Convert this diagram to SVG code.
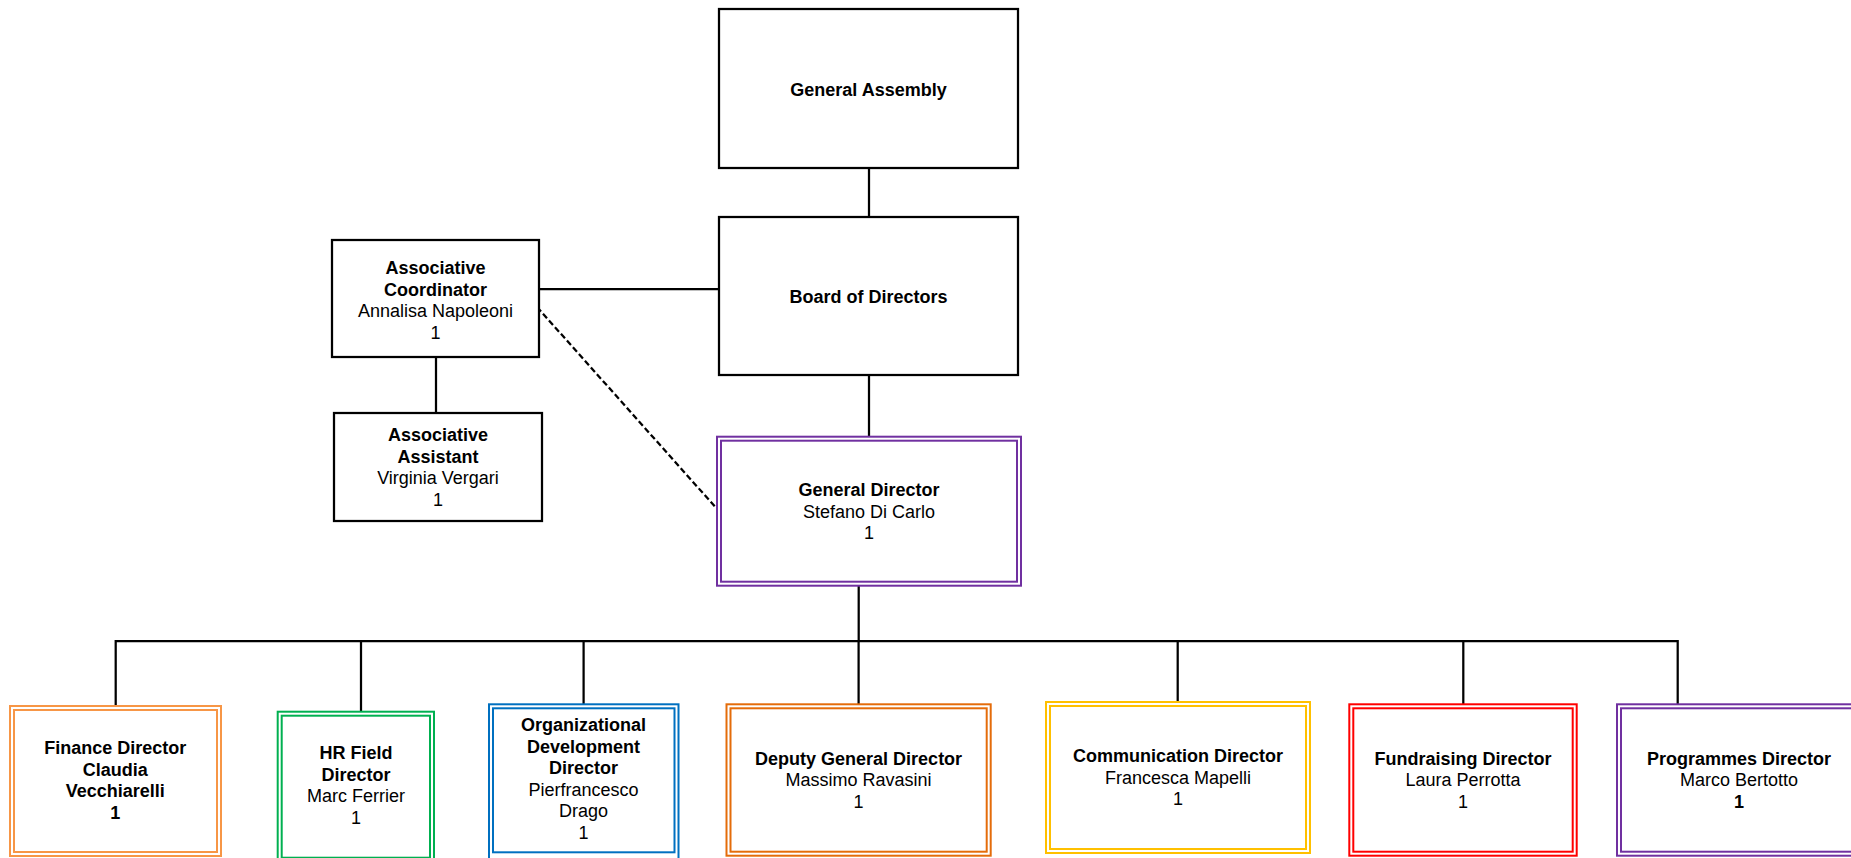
<svg xmlns="http://www.w3.org/2000/svg" width="1851" height="858" viewBox="0 0 1851 858">
<style>
text{font-family:"Liberation Sans",Arial,sans-serif;font-size:18px;text-anchor:middle;fill:#000}
.b{font-weight:bold}
.box{fill:#fff;stroke:#000;stroke-width:2.25}
.o{fill:#fff;stroke-width:2}
.i{fill:none;stroke-width:2}
.c{stroke:#000;stroke-width:2.25;fill:none}
.d{stroke:#000;stroke-width:2.25;fill:none;stroke-dasharray:6 3}
</style>
<rect width="1851" height="858" fill="#fff"/>
<g id="connectors">
<line class="c" x1="869" y1="169" x2="869" y2="217"/>
<line class="c" x1="869" y1="376" x2="869" y2="437"/>
<line class="c" x1="540" y1="289" x2="719" y2="289"/>
<line class="c" x1="436" y1="357" x2="436" y2="413"/>
<line class="d" x1="537" y1="307" x2="718" y2="510"/>
<line class="c" x1="858.7" y1="586" x2="858.7" y2="641"/>
<line class="c" x1="115.7" y1="641" x2="1677.7" y2="641"/>
<line class="c" x1="115.7" y1="640" x2="115.7" y2="706"/>
<line class="c" x1="361" y1="640" x2="361" y2="712"/>
<line class="c" x1="583.6" y1="640" x2="583.6" y2="704"/>
<line class="c" x1="858.6" y1="640" x2="858.6" y2="704"/>
<line class="c" x1="1177.7" y1="640" x2="1177.7" y2="702"/>
<line class="c" x1="1463.3" y1="640" x2="1463.3" y2="704"/>
<line class="c" x1="1677.7" y1="640" x2="1677.7" y2="704"/>
</g>
<g id="general-assembly">
<rect class="box" x="719" y="9" width="299" height="159"/>
<text class="b" x="868.5" y="96">General Assembly</text>
</g>
<g id="board">
<rect class="box" x="719" y="217" width="299" height="158"/>
<text class="b" x="868.5" y="303">Board of Directors</text>
</g>
<g id="assoc-coordinator">
<rect class="box" x="332" y="240" width="207" height="117"/>
<text class="b" x="435.5" y="274">Associative</text>
<text class="b" x="435.5" y="295.6">Coordinator</text>
<text x="435.5" y="317.2">Annalisa Napoleoni</text>
<text x="435.5" y="338.8">1</text>
</g>
<g id="assoc-assistant">
<rect class="box" x="334" y="413" width="208" height="108"/>
<text class="b" x="438" y="441">Associative</text>
<text class="b" x="438" y="462.6">Assistant</text>
<text x="438" y="484.2">Virginia Vergari</text>
<text x="438" y="505.8">1</text>
</g>
<g id="general-director">
<rect class="o" stroke="#7030A0" x="717" y="436.7" width="304" height="149"/>
<rect class="i" stroke="#7030A0" x="721" y="440.7" width="296" height="141"/>
<text class="b" x="869" y="496">General Director</text>
<text x="869" y="517.6">Stefano Di Carlo</text>
<text x="869" y="539.2">1</text>
</g>
<g id="finance">
<rect class="o" stroke="#F79646" x="10" y="706" width="211" height="150"/>
<rect class="i" stroke="#F79646" x="14" y="710" width="203" height="142"/>
<text class="b" x="115.3" y="754">Finance Director</text>
<text class="b" x="115.3" y="775.6">Claudia</text>
<text class="b" x="115.3" y="797.2">Vecchiarelli</text>
<text class="b" x="115.3" y="818.8">1</text>
</g>
<g id="hr">
<rect class="o" stroke="#00B050" x="277.7" y="711.7" width="156.3" height="152"/>
<rect class="i" stroke="#00B050" x="281.7" y="715.7" width="148.3" height="142"/>
<text class="b" x="356" y="759">HR Field</text>
<text class="b" x="356" y="780.6">Director</text>
<text x="356" y="802.2">Marc Ferrier</text>
<text x="356" y="823.8">1</text>
</g>
<g id="org-dev">
<rect class="o" stroke="#0070C0" x="489" y="704.3" width="189.5" height="156"/>
<rect class="i" stroke="#0070C0" x="493" y="708.3" width="181.5" height="144"/>
<text class="b" x="583.6" y="731">Organizational</text>
<text class="b" x="583.6" y="752.6">Development</text>
<text class="b" x="583.6" y="774.2">Director</text>
<text x="583.6" y="795.8">Pierfrancesco</text>
<text x="583.6" y="817.4">Drago</text>
<text x="583.6" y="839">1</text>
</g>
<g id="deputy">
<rect class="o" stroke="#E46C0A" x="726.5" y="704.3" width="264.2" height="151.4"/>
<rect class="i" stroke="#E46C0A" x="730.5" y="708.3" width="256.2" height="143.4"/>
<text class="b" x="858.6" y="764.5">Deputy General Director</text>
<text x="858.6" y="786">Massimo Ravasini</text>
<text x="858.6" y="807.6">1</text>
</g>
<g id="communication">
<rect class="o" stroke="#FFC000" x="1046" y="702" width="264" height="151"/>
<rect class="i" stroke="#FFC000" x="1050" y="706" width="256" height="143"/>
<text class="b" x="1178" y="762">Communication Director</text>
<text x="1178" y="783.6">Francesca Mapelli</text>
<text x="1178" y="805.2">1</text>
</g>
<g id="fundraising">
<rect class="o" stroke="#FF0000" x="1349.3" y="704.3" width="227.4" height="151.4"/>
<rect class="i" stroke="#FF0000" x="1353.3" y="708.3" width="219.4" height="143.4"/>
<text class="b" x="1463" y="764.5">Fundraising Director</text>
<text x="1463" y="786">Laura Perrotta</text>
<text x="1463" y="807.6">1</text>
</g>
<g id="programmes">
<rect class="o" stroke="#7030A0" x="1617" y="704.3" width="244" height="151.4"/>
<rect class="i" stroke="#7030A0" x="1621" y="708.3" width="236" height="143.4"/>
<text class="b" x="1739" y="764.5">Programmes Director</text>
<text x="1739" y="786">Marco Bertotto</text>
<text class="b" x="1739" y="807.6">1</text>
</g>
</svg>
